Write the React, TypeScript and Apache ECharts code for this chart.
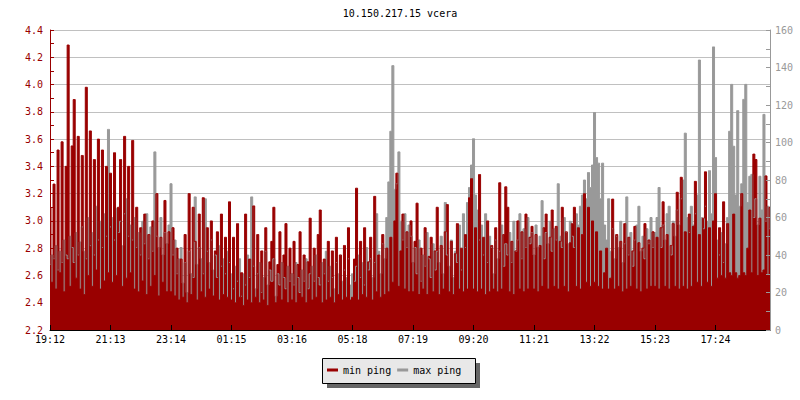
import React, { useEffect, useRef } from "react";
import * as echarts from "echarts";

const chartTitle = "10.150.217.15 vcera";
const tickLabels = ["19:12", "21:13", "23:14", "01:15", "03:16", "05:18", "07:19", "09:20", "11:21", "13:22", "15:23", "17:24"];
const labelEvery = 30;

// min ping (ms, left axis)
const minPing = [
  3.10, 2.55, 3.27, 2.50, 3.52, 2.62, 3.58, 2.48, 3.40, 4.29,
  2.52, 3.55, 3.89, 2.58, 3.62, 2.50, 3.48, 2.46, 3.98, 2.60,
  3.66, 2.52, 3.45, 2.64, 3.60, 2.50, 3.52, 2.56, 3.40, 2.62,
  3.35, 2.55, 3.50, 2.60, 3.10, 3.45, 2.52, 3.62, 2.58, 3.40,
  2.62, 3.59, 2.50, 3.10, 2.48, 2.95, 2.56, 3.05, 2.46, 2.90,
  2.52, 3.00, 2.60, 3.20, 2.45, 2.88, 2.55, 3.15, 2.48, 2.92,
  2.48, 2.95, 2.45, 2.80, 2.42, 2.72, 2.44, 2.90, 2.40, 3.20,
  2.46, 3.10, 2.85, 2.42, 3.05, 2.48, 3.17, 2.44, 2.95, 2.50,
  3.00, 2.45, 2.78, 2.92, 2.42, 3.05, 2.46, 2.88, 2.44, 3.14,
  2.42, 2.88, 2.40, 2.98, 2.44, 2.62, 2.38, 3.05, 2.42, 2.72,
  2.40, 3.11, 2.44, 2.90, 2.40, 2.78, 2.42, 2.95, 2.38, 2.70,
  2.85, 3.10, 2.40, 2.68, 2.92, 2.42, 2.75, 2.98, 2.40, 2.80,
  2.42, 2.85, 2.40, 2.68, 2.92, 2.44, 2.75, 2.40, 2.70, 3.02,
  2.42, 2.80, 2.44, 2.90, 3.08, 2.40, 2.72, 2.42, 2.85, 2.44,
  2.78, 2.40, 2.88, 2.46, 2.75, 2.42, 2.82, 2.44, 2.95, 2.42,
  2.44, 2.72, 3.24, 2.42, 2.85, 2.46, 2.95, 2.44, 2.70, 2.88,
  2.42, 3.18, 2.48, 2.75, 2.44, 2.90, 2.46, 2.80, 2.48, 2.88,
  2.55, 3.00, 3.35, 2.52, 2.78, 3.05, 2.50, 2.92, 2.48, 3.00,
  2.48, 2.85, 3.13, 2.46, 2.80, 2.50, 2.95, 2.46, 2.74, 2.88,
  2.48, 2.78, 3.10, 2.46, 2.82, 2.50, 2.92, 3.12, 2.48, 2.85,
  2.46, 2.76, 2.98, 2.50, 2.80, 2.48, 2.90, 2.50, 3.17, 3.31,
  2.50, 2.95, 2.48, 3.34, 2.50, 2.88, 2.46, 3.00, 2.48, 2.82,
  2.50, 2.95, 2.48, 3.28, 2.50, 2.90, 3.25, 3.10, 2.48, 2.85,
  2.46, 2.78, 3.00, 2.50, 2.92, 2.48, 3.05, 2.50, 2.88, 2.96,
  2.50, 2.90, 2.48, 2.82, 2.52, 2.95, 3.05, 2.50, 2.88, 3.08,
  2.52, 2.96, 2.50, 2.85, 3.10, 2.52, 2.92, 2.48, 2.84, 2.98,
  3.10, 2.52, 2.95, 2.50, 2.90, 3.20, 2.55, 3.10, 2.52, 3.00,
  2.55, 2.92, 2.52, 2.78, 2.50, 2.62, 2.80, 2.50, 2.58, 3.16,
  2.50, 2.90, 2.52, 2.85, 2.48, 2.98, 2.50, 2.88, 2.52, 2.78,
  2.96, 2.50, 2.84, 2.48, 2.80, 2.98, 2.50, 2.86, 2.52, 2.92,
  2.52, 2.88, 2.50, 2.95, 3.14, 2.52, 2.90, 2.50, 2.82, 2.98,
  2.52, 3.21, 2.50, 3.32, 2.52, 2.92, 2.50, 3.05, 2.52, 2.96,
  3.29, 2.55, 2.90, 2.52, 3.02, 3.36, 2.55, 2.95, 2.52, 3.00,
  3.20, 2.58, 2.95, 2.60, 3.14, 2.58, 2.98, 2.62, 2.60, 3.05,
  2.62, 2.58, 2.60, 3.20, 2.62, 2.60, 2.80, 3.08, 2.62, 3.49,
  3.45, 2.60, 3.02, 2.62, 2.64, 3.33, 2.60, 3.10
];

// max ping (ms, right axis)
const maxPing = [
  35, 40, 38, 45, 32, 42, 36, 48, 40, 38,
  50, 44, 36, 52, 40, 47, 55, 42, 38, 60,
  45, 52, 40, 66, 48, 58, 44, 62, 50, 107,
  55, 60, 48, 65, 52, 58, 45, 62, 70, 50,
  56, 48, 60, 44, 52, 40, 58, 46, 62, 38,
  55, 42, 95, 50, 44, 60, 40, 52, 46, 56,
  78, 40, 48, 30, 38, 44, 25, 36, 20, 42,
  30, 28, 71, 35, 44, 38, 30, 70, 42, 36,
  48, 32, 40, 28, 45, 34, 38, 30, 42, 36,
  30, 22, 34, 26, 38, 18, 30, 24, 40, 28,
  71, 34, 22, 30, 36, 20, 28, 42, 24, 32,
  26, 38, 18, 30, 24, 36, 28, 22, 34, 26,
  30, 24, 36, 28, 20, 32, 26, 38, 22, 30,
  34, 26, 40, 28, 24, 36, 30, 42, 26, 34,
  28, 22, 36, 30, 40, 26, 32, 28, 38, 24,
  30, 26, 34, 40, 28, 36, 24, 44, 32, 38,
  28, 36, 62, 42, 30, 46, 38, 60, 79, 106,
  141, 75, 78, 95, 58, 48, 62, 44, 56, 50,
  36, 44, 30, 48, 26, 40, 34, 52, 38, 28,
  46, 32, 42, 36, 50, 30, 68, 40, 34, 48,
  28, 42, 36, 56, 32, 62, 44, 68, 76, 88,
  102, 72, 64, 48, 56, 40, 62, 36, 50, 44,
  30, 48, 38, 42, 56, 34, 46, 40, 52, 36,
  58, 42, 48, 62, 38, 54, 44, 60, 46, 52,
  40, 56, 44, 50, 69, 38, 52, 46, 58, 42,
  54, 48, 78, 50, 44, 60, 52, 46, 58, 50,
  44, 62, 56, 66, 72, 80, 70, 84, 76, 88,
  116, 92, 89, 70, 89, 56, 48, 70, 42, 54,
  38, 50, 44, 58, 36, 46, 71, 40, 52, 34,
  48, 56, 66, 42, 50, 38, 54, 46, 60, 44,
  52, 60, 76, 44, 56, 48, 62, 66, 40, 58,
  50, 64, 56, 70, 80, 105, 60, 52, 66, 56,
  62, 72, 144, 60, 54, 66, 58, 85, 62, 151,
  92, 48, 40, 52, 36, 46, 60, 106, 131, 98,
  72, 117, 66, 78, 123, 131, 68, 82, 83, 60,
  70, 56, 82, 64, 115, 58, 66, 54
];

const MONO = '"DejaVu Sans Mono", "Liberation Mono", monospace';
const RED = "#990000";
const GRAY = "#999999";

export default function App() {
  const ref = useRef<HTMLDivElement>(null);

  useEffect(() => {
    if (!ref.current) return;
    const chart = echarts.init(ref.current, null, { renderer: "svg", width: 800, height: 400 });
    const categories = minPing.map((_, i) => String(i));

    chart.setOption({
      animation: false,
      backgroundColor: "#ffffff",
      title: {
        text: chartTitle,
        left: "center",
        top: 3,
        textStyle: { fontFamily: MONO, fontSize: 10, fontWeight: "normal", color: "#000000" },
      },
      grid: { left: 50, right: 30, top: 30, bottom: 70, containLabel: false },
      legend: {
        data: ["min ping", "max ping"],
        left: 327,
        top: 365,
        padding: 0,
        itemGap: 6,
        itemWidth: 11,
        itemHeight: 3,
        icon: "rect",
        selectedMode: false,
        z: 20,
        textStyle: { fontFamily: MONO, fontSize: 10, color: "#000000" },
      },
      graphic: [
        { type: "rect", z: 10, shape: { x: 327, y: 363, width: 153, height: 25 }, style: { fill: "#666666" } },
        {
          type: "rect",
          z: 11,
          shape: { x: 322.5, y: 358.5, width: 153, height: 25 },
          style: { fill: "#e8e8e8", stroke: "#000000", lineWidth: 1 },
        },
      ],
      xAxis: {
        type: "category",
        data: categories,
        boundaryGap: false,
        z: 10,
        axisLine: { show: true, lineStyle: { color: "#000000", width: 1 } },
        axisTick: { show: true, inside: true, length: 5, interval: labelEvery - 1, lineStyle: { color: "#000000" } },
        axisLabel: {
          interval: labelEvery - 1,
          margin: 4,
          color: "#000000",
          fontFamily: MONO,
          fontSize: 10,
          formatter: (_v: string, idx: number) =>
            idx % labelEvery === 0 && tickLabels[idx / labelEvery] ? tickLabels[idx / labelEvery] : "",
        },
        splitLine: { show: false },
      },
      yAxis: [
        {
          type: "value",
          min: 2.2,
          max: 4.4,
          interval: 0.2,
          position: "left",
          axisLine: { show: true, lineStyle: { color: RED } },
          axisTick: { show: true, inside: true, length: 4, lineStyle: { color: RED } },
          minorTick: { show: true, splitNumber: 2, length: 4, lineStyle: { color: RED } },
          axisLabel: {
            color: RED,
            fontFamily: MONO,
            fontSize: 10,
            margin: 7,
            formatter: (v: number) => v.toFixed(1),
          },
          splitLine: { show: true, lineStyle: { color: "#c0c0c0", width: 1 } },
        },
        {
          type: "value",
          min: 0,
          max: 160,
          interval: 20,
          position: "right",
          z: 10,
          axisLine: { show: true, lineStyle: { color: GRAY } },
          axisTick: { show: true, inside: true, length: 4, lineStyle: { color: GRAY } },
          minorTick: { show: true, splitNumber: 2, length: 4, lineStyle: { color: GRAY } },
          axisLabel: { color: GRAY, fontFamily: MONO, fontSize: 10, margin: 5 },
          splitLine: { show: false },
        },
      ],
      series: [
        {
          name: "max ping",
          type: "line",
          yAxisIndex: 1,
          data: maxPing,
          step: "middle",
          showSymbol: false,
          silent: true,
          color: GRAY,
          itemStyle: { color: GRAY },
          lineStyle: { color: GRAY, width: 1 },
          areaStyle: { color: GRAY, opacity: 1 },
        },
        {
          name: "min ping",
          type: "line",
          yAxisIndex: 0,
          data: minPing,
          step: "middle",
          showSymbol: false,
          silent: true,
          color: RED,
          itemStyle: { color: RED },
          lineStyle: { color: RED, width: 1 },
          areaStyle: { color: RED, opacity: 1, origin: "start" },
        },
      ],
    });

    return () => chart.dispose();
  }, []);

  return (
    <div
      ref={ref}
      style={{ position: "fixed", left: 0, top: 0, width: 800, height: 400, background: "#ffffff" }}
    />
  );
}
